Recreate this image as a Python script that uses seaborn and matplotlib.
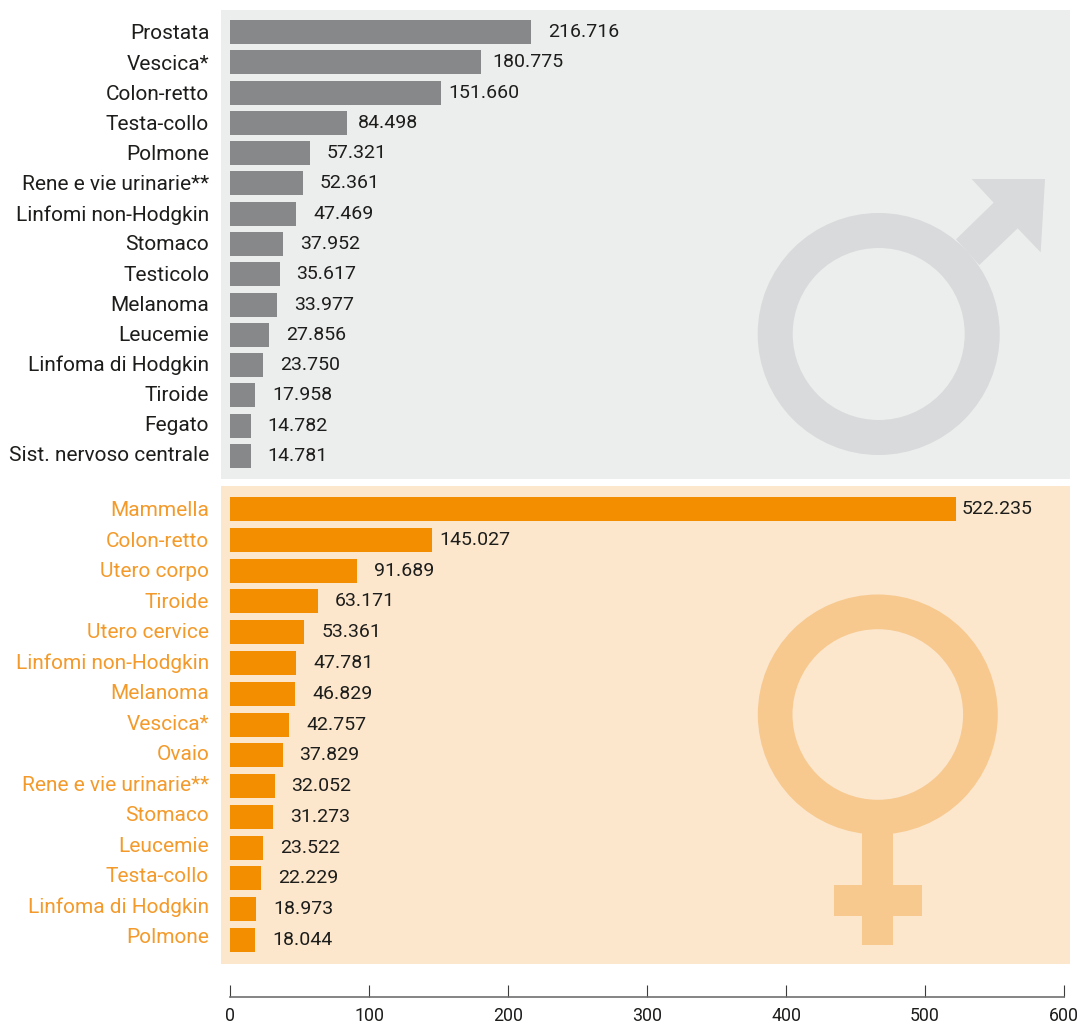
import numpy as np
import pandas as pd
import seaborn as sns
import matplotlib.pyplot as plt
from matplotlib.patches import Rectangle, Circle, Polygon

male_sites = ['Prostata', 'Vescica*', 'Colon-retto', 'Testa-collo', 'Polmone', 'Rene e vie urinarie**',
              'Linfomi non-Hodgkin', 'Stomaco', 'Testicolo', 'Melanoma', 'Leucemie', 'Linfoma di Hodgkin',
              'Tiroide', 'Fegato', 'Sist. nervoso centrale']
male_values = [216.716, 180.775, 151.660, 84.498, 57.321, 52.361, 47.469, 37.952, 35.617, 33.977,
               27.856, 23.750, 17.958, 14.782, 14.781]

female_sites = ['Mammella', 'Colon-retto', 'Utero corpo', 'Tiroide', 'Utero cervice', 'Linfomi non-Hodgkin',
                'Melanoma', 'Vescica*', 'Ovaio', 'Rene e vie urinarie**', 'Stomaco', 'Leucemie',
                'Testa-collo', 'Linfoma di Hodgkin', 'Polmone']
female_values = [522.235, 145.027, 91.689, 63.171, 53.361, 47.781, 46.829, 42.757, 37.829, 32.052,
                 31.273, 23.522, 22.229, 18.973, 18.044]

axis_ticks = [0, 100, 200, 300, 400, 500, 600]

W, H = 1080, 1026
DARK = '#1d1d1b'
GREY = '#878889'
ORANGE = '#f28e00'
ORANGE_TEXT = '#f39a2a'
GREY_BG = '#eceeed'
ORANGE_BG = '#fce7cd'
GREY_SYM = '#d8dadb'
ORANGE_SYM = '#f7c98f'
LABEL_SIZE = 15.0
VALUE_SIZE = 14
TICK_SIZE = 12.8

sns.set_theme(style='white')
plt.rcParams['font.family'] = ['Roboto', 'DejaVu Sans']

fig = plt.figure(figsize=(W / 100, H / 100), dpi=100)

# background panels and the two symbols, in pixel coordinates
bg = fig.add_axes([0, 0, 1, 1], zorder=0)
bg.set_xlim(0, W)
bg.set_ylim(H, 0)
bg.axis('off')
bg.add_patch(Rectangle((221, 10), 849, 469, color=GREY_BG, lw=0))
bg.add_patch(Rectangle((221, 486), 849, 478, color=ORANGE_BG, lw=0))

arrow = np.array([(695, 57), (915, 57), (902, 277), (833, 205), (718, 315), (648, 238), (761, 128)]) / 3 + (740, 160)
bg.add_patch(Polygon(arrow, color=GREY_SYM, lw=0))
bg.add_patch(Circle((878.7, 334), 121, color=GREY_SYM, lw=0))
bg.add_patch(Circle((878.7, 334), 86, color=GREY_BG, lw=0))

bg.add_patch(Rectangle((862.3, 830), 30.7, 115, color=ORANGE_SYM, lw=0))
bg.add_patch(Rectangle((833.7, 885.3), 88.3, 31, color=ORANGE_SYM, lw=0))
bg.add_patch(Circle((877.8, 714.5), 120, color=ORANGE_SYM, lw=0))
bg.add_patch(Circle((877.8, 714.5), 85.3, color=ORANGE_BG, lw=0))


def draw_panel(sites, values, top, bottom, first, pitch, tick_pitch, color, text_color, gaps):
    ax = fig.add_axes([221 / W, 1 - bottom / H, 849 / W, (bottom - top) / H], zorder=1)
    ax.patch.set_alpha(0)
    df = pd.DataFrame({'site': sites, 'value': values})
    sns.barplot(data=df, x='value', y='site', color=color, saturation=1, width=24 / pitch, linewidth=0, ax=ax)
    ax.set_xlim(-9 / 1.39, 840 / 1.39)
    ax.set_ylim((bottom - first) / pitch, (top - first) / pitch)
    ax.set_xlabel('')
    ax.set_ylabel('')
    ax.set_xticks([])
    ax.set_yticks(np.arange(len(sites)) * tick_pitch / pitch, sites)
    ax.tick_params(axis='y', length=0, pad=8.5, labelsize=LABEL_SIZE, labelcolor=text_color)
    sns.despine(ax=ax, left=True, bottom=True)
    for i, v in enumerate(values):
        gap = gaps.get(i, 17)
        ax.annotate(f'{v:.3f}', (v, i), xytext=(gap * 0.72, 0), textcoords='offset points',
                    va='center', ha='left', fontsize=VALUE_SIZE, color=DARK)
    return ax


draw_panel(male_sites, male_values, 10, 479, 32, 30.29, 30.14, GREY, DARK, {1: 11, 2: 8, 3: 10})
draw_panel(female_sites, female_values, 486, 964, 509, 30.79, 30.5, ORANGE, ORANGE_TEXT, {0: 6, 1: 8})

# scale at the bottom
scale = fig.add_axes([230 / W, 1 - 997 / H, 834 / W, 12 / H], zorder=1)
scale.patch.set_alpha(0)
scale.set_xlim(0, 600)
scale.set_xticks(axis_ticks)
scale.set_yticks([])
sns.despine(ax=scale, left=True)
scale.spines['bottom'].set_color('#706f6f')
scale.spines['bottom'].set_linewidth(1.2)
scale.tick_params(axis='x', direction='in', length=8.6, width=0.8, color='#3c3c3b', pad=7.5,
                  labelsize=TICK_SIZE, labelcolor=DARK, bottom=True)

fig.savefig('out.png', dpi=100)
